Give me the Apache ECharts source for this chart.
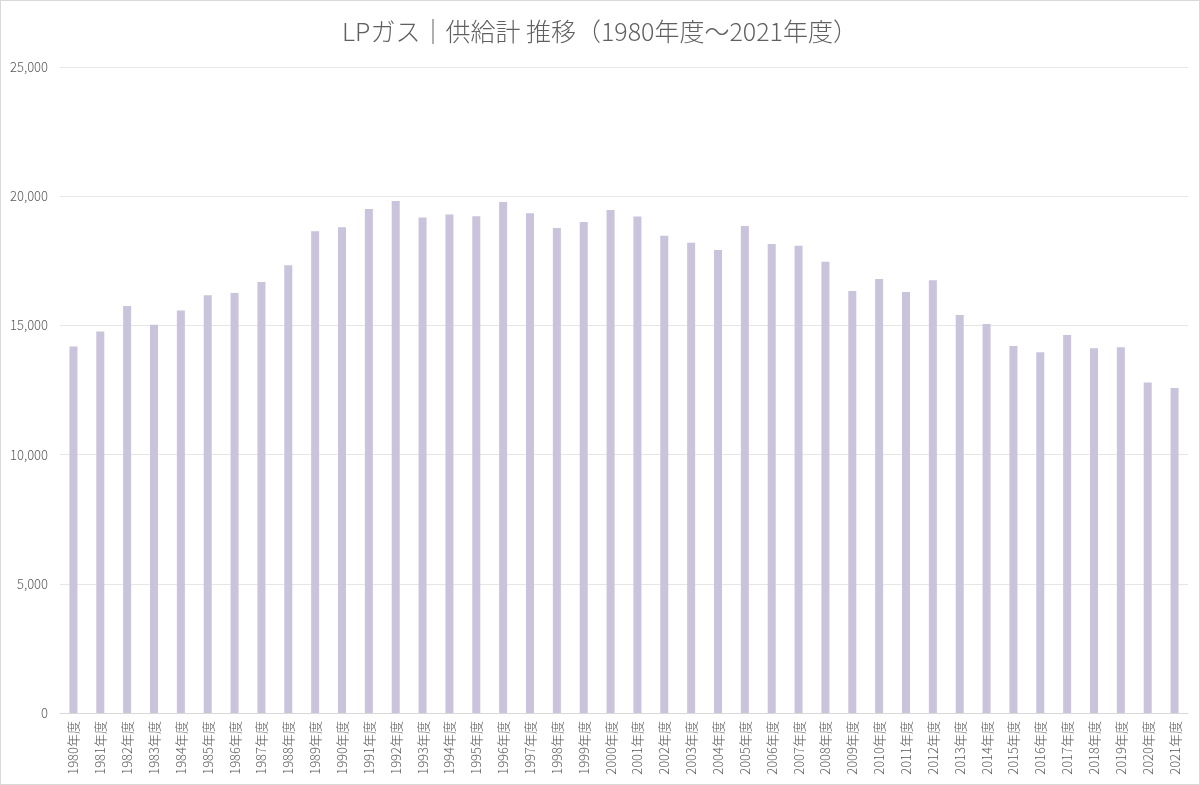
<!DOCTYPE html>
<html><head><meta charset="utf-8">
<script src="https://cdn.jsdelivr.net/npm/echarts@6/dist/echarts.min.js"></script>
<style>
html,body{margin:0;padding:0;background:#fff;}
#c{width:1198px;height:783px;border:1px solid #d9d9d9;}
</style></head><body>
<div id="c"></div>
<script>
const categories = ["1980年度","1981年度","1982年度","1983年度","1984年度","1985年度","1986年度","1987年度","1988年度","1989年度","1990年度","1991年度","1992年度","1993年度","1994年度","1995年度","1996年度","1997年度","1998年度","1999年度","2000年度","2001年度","2002年度","2003年度","2004年度","2005年度","2006年度","2007年度","2008年度","2009年度","2010年度","2011年度","2012年度","2013年度","2014年度","2015年度","2016年度","2017年度","2018年度","2019年度","2020年度","2021年度"];
const supplyTotal = [14186,14767,15748,15023,15581,16163,16252,16678,17326,18643,18798,19508,19818,19171,19287,19225,19779,19341,18771,19004,19469,19210,18473,18202,17919,18849,18151,18085,17465,16329,16795,16291,16744,15399,15050,14198,13965,14624,14120,14159,12791,12581];
const titleText = "LPガス｜供給計 推移（1980年度～2021年度）";

const font = '"Noto Sans CJK JP","Noto Sans",sans-serif';
const chart = echarts.init(document.getElementById('c'));
chart.setOption({
  animation:false,
  backgroundColor:'#fff',
  title:{text:titleText,left:'center',top:13,textStyle:{fontFamily:font,fontSize:25,fontWeight:300,color:'#606060'}},
  grid:{left:59,right:11,top:66,bottom:71},
  xAxis:{type:'category',data:categories,
    axisLine:{lineStyle:{color:'#d9d9d9'}},axisTick:{show:false},
    axisLabel:{rotate:90,interval:0,fontFamily:font,fontSize:13,fontWeight:300,color:'#595959',margin:8}},
  yAxis:{type:'value',min:0,max:25000,interval:5000,
    axisLine:{show:false},axisTick:{show:false},
    splitLine:{lineStyle:{color:'#e6e6e6'}},
    axisLabel:{fontFamily:font,fontSize:13,fontWeight:300,color:'#595959',margin:12,
      formatter:v=>v.toLocaleString('en-US')}},
  series:[{type:'bar',data:supplyTotal,barWidth:8,itemStyle:{color:'#c9c3dc'}}]
});
</script></body></html>
